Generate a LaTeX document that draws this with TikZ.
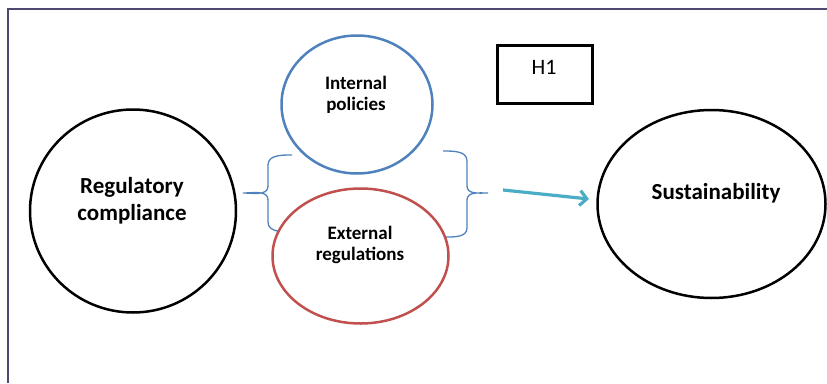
\documentclass[tikz,border=0pt]{standalone}
\usepackage{fontspec}
\setmainfont{Carlito}
\usetikzlibrary{shapes.geometric,arrows.meta}
\definecolor{frameclr}{RGB}{80,72,110}
\definecolor{ipblue}{RGB}{79,129,189}
\definecolor{erred}{RGB}{192,80,77}
\definecolor{arrteal}{RGB}{75,172,198}

\begin{document}
\begin{tikzpicture}[x=1pt, y=-1pt,
	oval/.style={draw, ellipse, line width=2.5pt, inner sep=0pt, fill=white},
	bigtxt/.style={font=\fontsize{23}{27}\selectfont\bfseries, align=center, inner sep=0pt},
	smalltxt/.style={font=\fontsize{19}{21}\selectfont\bfseries, align=center, inner sep=0pt},
	bracket/.style={draw=ipblue, line width=1.3pt}]
			\useasboundingbox (0,0) rectangle (827,383);
			\draw[draw=frameclr, line width=1.5pt] (8,383) -- (8,9) -- (827,9);
			
			% the two braces round the inner ovals
			\draw[bracket] (292,155) to[out=180,in=90] (268,165) -- (268,186) to[out=-90,in=0] (243,193)
				to[out=0,in=90] (268,200) -- (268,222) to[out=-90,in=180] (290,232);
			\draw[bracket] (443,151) to[out=0,in=90] (467,161) -- (467,186) to[out=-90,in=180] (488,193)
				to[out=180,in=90] (467,200) -- (467,228) to[out=-90,in=0] (445,237);
			
			\node[oval, minimum width=206pt, minimum height=203pt] (rc) at (133,211) {};
			\node[oval, draw=ipblue, minimum width=151pt, minimum height=138pt] (ip) at (357,104.5) {};
			\node[oval, draw=erred, minimum width=176pt, minimum height=135pt] (er) at (360.5,256) {};
			\node[oval, minimum width=228pt, minimum height=188pt] (sus) at (711.5,204) {};
			\node[draw, line width=3pt, minimum width=95pt, minimum height=58pt] (h1) at (544.5,74) {};
			
			\node[bigtxt] (rclbl) at (132,201) {Regulatory\\compliance};
			\node[smalltxt] (iplbl) at (356,94.5) {Internal\\policies};
			\node[smalltxt] (erlbl) at (360,245) {External\\regulations};
			\node[bigtxt] (suslbl) at (716,193.5) {Sustainability};
			\node[font=\fontsize{22}{26}\selectfont, inner sep=0pt] (h1lbl) at (544,67.5) {H1};
			
			\coordinate (arrtail) at (503,190);
			\coordinate (arrtip) at (589,199);
			\draw[draw=arrteal, line width=3.2pt, -{Straight Barb[length=7pt, width=15pt]}] (arrtail) -- (arrtip);
			
	\end{tikzpicture}
\end{document}
